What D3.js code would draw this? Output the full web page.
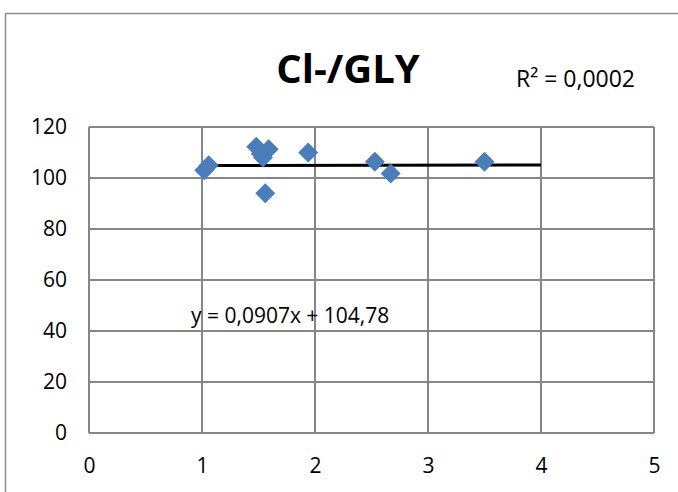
<!DOCTYPE html>
<html><head><meta charset="utf-8">
<script src="https://cdn.jsdelivr.net/npm/d3@7"></script>
<style>
html,body{margin:0;padding:0;background:#fff;}
svg{display:block;font-family:"Open Sans",sans-serif;}
</style></head>
<body>
<svg id="c" width="678" height="492"></svg>
<script>
const title = "Cl-/GLY";
const xValues = [1.02, 1.06, 1.48, 1.59, 1.54, 1.52, 1.56, 1.94, 2.53, 2.67, 3.50];
const yValues = [103.0, 105.0, 112.3, 111.3, 108.0, 109.5, 94.0, 110.0, 106.4, 101.8, 106.4];
const xTicks = [0, 1, 2, 3, 4, 5];
const yTicks = [0, 20, 40, 60, 80, 100, 120];
const slope = 0.0907, intercept = 104.78;
const trendRange = [1.0, 4];
const eqLabel = "y = 0,0907x + 104,78";
const r2Label = "R² = 0,0002";

const svg = d3.select("#c");
const L = 89, R = 654, T = 127, B = 433;
const x = d3.scaleLinear().domain([0, 5]).range([L, R]);
const y = d3.scaleLinear().domain([0, 120]).range([B, T]);

// outer frame
svg.append("rect").attr("x", 5.5).attr("y", 13.5).attr("width", 700).attr("height", 500)
  .attr("fill", "none").attr("stroke", "#8c8c8c").attr("stroke-width", 1.5);

// gridlines
const grid = svg.append("g").attr("stroke", "#868686").attr("stroke-width", 2);
yTicks.forEach(t => grid.append("line").attr("x1", L).attr("x2", R).attr("y1", y(t)).attr("y2", y(t)));
xTicks.forEach(t => grid.append("line").attr("y1", T).attr("y2", B).attr("x1", x(t)).attr("x2", x(t)));

// axes labels via d3 axes
const ya = svg.append("g").attr("transform", `translate(${L},0)`)
  .call(d3.axisLeft(y).tickValues(yTicks).tickFormat(d3.format("d")).tickSize(0).tickPadding(22));
const xa = svg.append("g").attr("transform", `translate(0,${B})`)
  .call(d3.axisBottom(x).tickValues(xTicks).tickFormat(d3.format("d")).tickSize(0).tickPadding(25));
[ya, xa].forEach(a => {
  a.select(".domain").remove();
  a.selectAll("text").attr("font-size", 21).attr("fill", "#000")
    .attr("font-family", '"Open Sans",sans-serif');
});

// trendline
svg.append("line")
  .attr("x1", x(trendRange[0])).attr("x2", x(trendRange[1]))
  .attr("y1", y(slope * trendRange[0] + intercept)).attr("y2", y(slope * trendRange[1] + intercept))
  .attr("stroke", "#000").attr("stroke-width", 3);

// points
const sym = d3.symbol().type(d3.symbolSquare).size(200);
svg.append("g").selectAll("path").data(xValues.map((v, i) => [v, yValues[i]])).join("path")
  .attr("d", sym)
  .attr("transform", d => `translate(${x(d[0])},${y(d[1])}) rotate(45)`)
  .attr("fill", "#4a7ebb");

// title
svg.append("text").attr("x", 348).attr("y", 83).attr("text-anchor", "middle")
  .attr("font-size", 40).attr("font-weight", "bold").text(title);
svg.append("text").attr("x", 516).attr("y", 87).attr("font-size", 23).text(r2Label);
svg.append("text").attr("x", 191).attr("y", 323).attr("font-size", 21).text(eqLabel);
</script>
</body></html>
